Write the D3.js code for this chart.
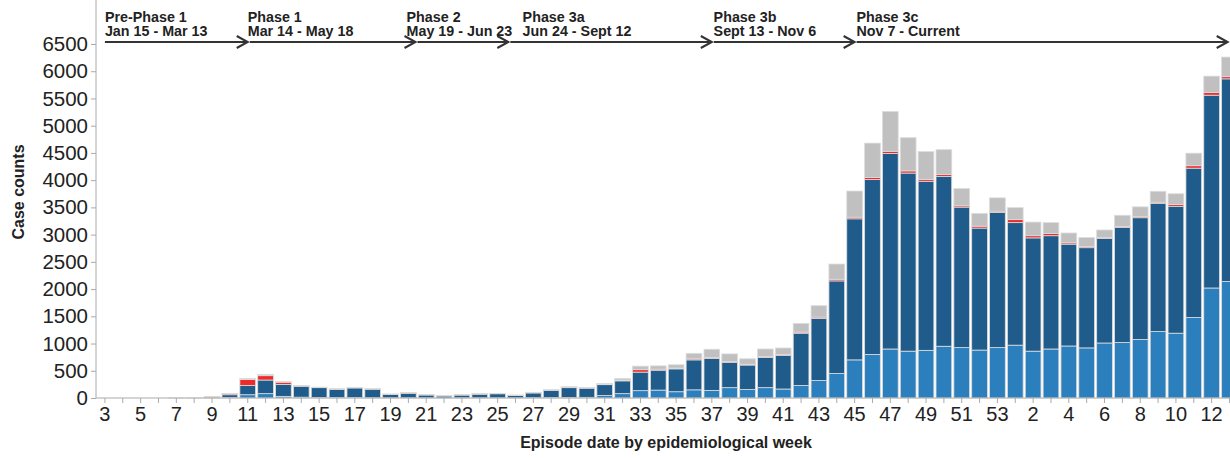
<!DOCTYPE html>
<html>
<head>
<meta charset="utf-8">
<script src="https://cdn.jsdelivr.net/npm/d3@7"></script>
<style>
  body { margin: 0; background: #fff; }
  text { font-family: "Liberation Sans", Arial, sans-serif; }
</style>
</head>
<body>
<script>
// epidemiological weeks, 2020 wk 3 .. 2021 wk 13
const weeks = [3,4,5,6,7,8,9,10,11,12,13,14,15,16,17,18,19,20,21,22,23,24,25,26,27,28,29,30,
  31,32,33,34,35,36,37,38,39,40,41,42,43,44,45,46,47,48,49,50,51,52,53,
  1,2,3,4,5,6,7,8,9,10,11,12,13];

// stacked components, bottom to top
const lightBlue = [0,0,0,0,0,0,3,10,60,80,30,15,10,8,8,5,3,3,3,2,3,3,3,3,5,8,10,12,
  45,80,135,145,115,150,140,190,155,190,165,230,320,450,700,800,900,860,875,950,925,880,925,
  970,860,900,955,920,1010,1020,1075,1220,1190,1480,2020,2140];
const darkBlue = [0,0,0,0,0,0,8,50,170,250,220,200,180,152,177,157,65,85,52,36,52,68,75,45,88,132,180,168,
  200,235,340,365,420,550,585,465,450,555,615,960,1140,1700,2590,3210,3590,3270,3105,3120,2580,2240,2480,
  2250,2080,2080,1870,1840,1920,2110,2235,2355,2330,2740,3540,3720];
const red = [0,0,0,0,0,0,15,20,110,80,40,10,5,5,5,4,3,5,7,2,2,3,3,3,5,6,8,7,
  12,15,45,20,15,20,20,15,15,15,18,20,25,30,30,40,40,40,35,35,25,35,25,
  55,40,40,25,20,20,20,20,20,35,45,50,40];
const gray = [0,0,0,0,1,1,3,5,20,25,10,7,5,5,5,4,2,4,5,2,3,4,4,4,6,6,9,8,
  11,30,65,60,60,100,150,140,100,140,120,160,210,280,480,630,730,610,510,455,315,235,245,
  220,250,200,180,165,135,205,180,200,195,230,300,360];

const yTicks = [0,500,1000,1500,2000,2500,3000,3500,4000,4500,5000,5500,6000,6500];

// phase annotations (positions in week index units)
const phaseNames = ["Pre-Phase 1","Phase 1","Phase 2","Phase 3a","Phase 3b","Phase 3c"];
const phaseDates = ["Jan 15 - Mar 13","Mar 14 - May 18","May 19 - Jun 23","Jun 24 - Sept 12","Sept 13 - Nov 6","Nov 7 - Current"];
const phaseStart = [0, 8.0, 17.4, 22.6, 34.0, 42.0, 62.9];
const phaseLabelAt = [0, 8.0, 16.9, 23.4, 34.1, 42.1];

const keys = ["lightBlue","darkBlue","red","gray"];
const colors = {lightBlue:"#2c7fbd", darkBlue:"#1f5c8b", red:"#ee2a2a", gray:"#c0c0c0"};

const width = 1230, height = 458;
const svg = d3.select("body").append("svg")
  .attr("width", width).attr("height", height);

const rows = weeks.map((w, i) => ({
  i: i, week: w,
  lightBlue: lightBlue[i], darkBlue: darkBlue[i], red: red[i], gray: gray[i]
}));

const x = d3.scaleBand()
  .domain(rows.map(d => d.i))
  .range([96, 96 + 64 * 17.85])
  .paddingInner(0.12)
  .paddingOuter(0.06);

const y = d3.scaleLinear().domain([0, 6500]).range([398, 44]);

const stack = d3.stack().keys(keys)(rows);

svg.append("g")
  .selectAll("g")
  .data(stack)
  .join("g")
  .attr("fill", d => colors[d.key])
  .selectAll("rect")
  .data(d => d)
  .join("rect")
  .attr("x", d => x(d.data.i))
  .attr("width", x.bandwidth())
  .attr("y", d => y(d[1]))
  .attr("height", d => Math.max(0, y(d[0]) - y(d[1])))
  .attr("stroke", "#dcdcdc")
  .attr("stroke-width", d => (d[1] - d[0]) > 0 ? 0.8 : 0);

// y axis
const yAxis = svg.append("g")
  .attr("transform", "translate(96,0)")
  .call(d3.axisLeft(y).tickValues(yTicks).tickSize(5).tickPadding(3).tickFormat(d3.format("d")));
yAxis.select(".domain").attr("stroke", "#aaa").attr("d", "M0,398V0");
yAxis.selectAll(".tick line").attr("stroke", "#aaa");
yAxis.selectAll("text").attr("font-size", 20.5).attr("fill", "#222");

// x axis
const xAxis = svg.append("g")
  .attr("transform", "translate(0,398)")
  .call(d3.axisBottom(x).tickSize(5).tickPadding(4)
    .tickFormat(i => i % 2 === 0 ? weeks[i] : ""));
xAxis.select(".domain").attr("stroke", "#aaa").attr("d", "M96,0H1230");
xAxis.selectAll(".tick line").attr("stroke", "#aaa");
xAxis.selectAll("text").attr("font-size", 20).attr("fill", "#222");

// axis titles
svg.append("text")
  .attr("x", 666).attr("y", 448)
  .attr("text-anchor", "middle")
  .attr("font-size", 16).attr("font-weight", "bold").attr("fill", "#222")
  .text("Episode date by epidemiological week");

svg.append("text")
  .attr("transform", "translate(24,192) rotate(-90)")
  .attr("text-anchor", "middle")
  .attr("font-size", 16).attr("font-weight", "bold").attr("fill", "#222")
  .text("Case counts");

// phase arrows
const px = f => x(0) + x.bandwidth() / 2 + f * x.step();
const arrowY = 42;
const ph = svg.append("g").selectAll("g")
  .data(phaseNames)
  .join("g");

ph.append("line")
  .attr("x1", (d, i) => px(phaseStart[i]) + (i > 0 ? 2 : 0))
  .attr("x2", (d, i) => px(phaseStart[i + 1]))
  .attr("y1", arrowY).attr("y2", arrowY)
  .attr("stroke", "#333").attr("stroke-width", 2.2);

ph.append("path")
  .attr("d", (d, i) => {
    const e = px(phaseStart[i + 1]);
    return "M" + (e - 11) + "," + (arrowY - 6) + "L" + e + "," + arrowY + "L" + (e - 11) + "," + (arrowY + 6);
  })
  .attr("fill", "none").attr("stroke", "#333").attr("stroke-width", 2);

ph.append("text")
  .attr("x", (d, i) => px(phaseLabelAt[i]))
  .attr("y", 22)
  .attr("font-size", 14.3).attr("font-weight", "bold").attr("fill", "#222")
  .text(d => d);

ph.append("text")
  .attr("x", (d, i) => px(phaseLabelAt[i]))
  .attr("y", 35.5)
  .attr("font-size", 14.3).attr("font-weight", "bold").attr("fill", "#222")
  .text((d, i) => phaseDates[i]);
</script>
</body>
</html>
